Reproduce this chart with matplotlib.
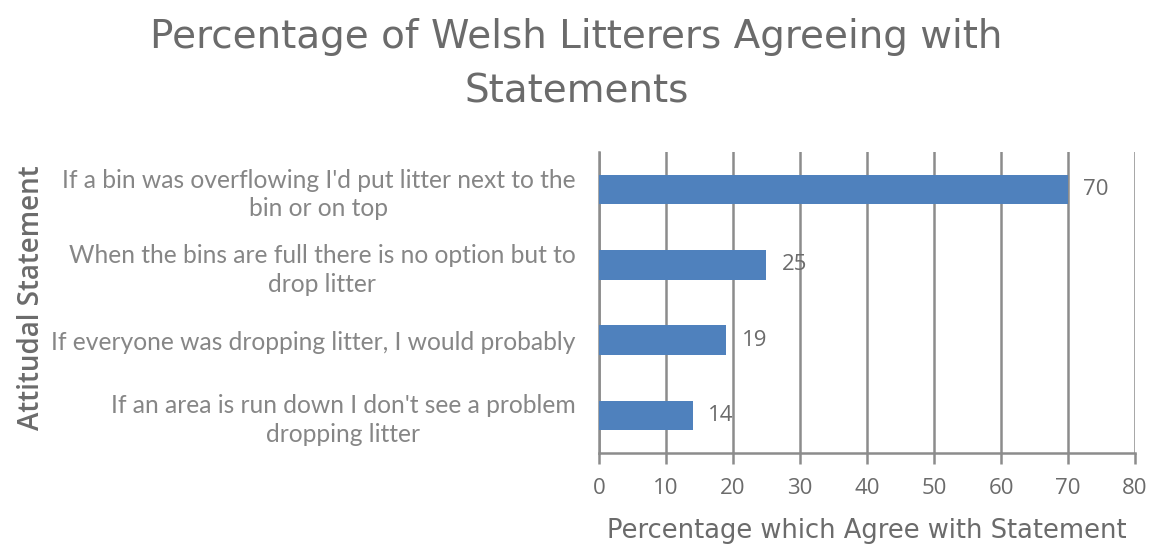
import matplotlib.pyplot as plt

statements = [
    "If a bin was overflowing I'd put litter next to the\nbin or on top",
    "When the bins are full there is no option but to\ndrop litter",
    "If everyone was dropping litter, I would probably",
    "If an area is run down I don't see a problem\ndropping litter",
]
percent_agree = [70, 25, 19, 14]
x_ticks = [0, 10, 20, 30, 40, 50, 60, 70, 80]

TEXT = "#6b6b6b"
LABEL = "#868686"
GRID = "#8c8c8c"
BAR = "#4f81bd"


def main():
    fig = plt.figure(figsize=(11.53, 5.46), dpi=100)
    ax = fig.add_axes([0.5195, 0.1703, 0.4649, 0.5513])

    positions = list(range(len(statements)))
    ax.barh(positions, percent_agree, height=0.39, color=BAR, zorder=3)
    ax.set_ylim(len(statements) - 0.5, -0.5)
    ax.set_xlim(0, 80)

    for pos, value in zip(positions, percent_agree):
        ax.text(value + 2.3, pos, f"{value}", ha="left", va="center",
                color=TEXT, fontsize=16, family="Open Sans", zorder=4)

    ax.set_xticks(x_ticks)
    ax.set_xticklabels([str(t) for t in x_ticks], fontsize=16, color=TEXT, family="Open Sans")
    ax.set_yticks(positions)
    ax.set_yticklabels(statements, fontsize=17.7, color=LABEL, family="Lato",
                       linespacing=1.3)
    for label in ax.get_yticklabels():
        label.set_multialignment("center")

    ax.grid(axis="x", color=GRID, linewidth=1.8, zorder=1)
    ax.tick_params(axis="x", length=8, width=1.8, color=GRID, pad=10)
    ax.tick_params(axis="y", length=0, pad=17)
    for side in ["top", "right"]:
        ax.spines[side].set_visible(False)
    ax.spines["left"].set_color(GRID)
    ax.spines["left"].set_linewidth(1.8)
    ax.spines["bottom"].set_color(GRID)
    ax.spines["bottom"].set_linewidth(1.8)

    ax.set_xlabel("Percentage which Agree with Statement", fontsize=18.5, color=TEXT, labelpad=14)
    fig.text(0.027, 0.454, "Attitudal Statement", rotation=90, ha="center", va="center",
             fontsize=20, color=TEXT, fontweight="semibold", family="Open Sans")

    fig.text(0.5, 0.882, "Percentage of Welsh Litterers Agreeing with\nStatements",
             ha="center", va="center", fontsize=28, color=TEXT, linespacing=1.55)

    fig.savefig("out.png", dpi=100)
    plt.close(fig)


if __name__ == "__main__":
    main()
